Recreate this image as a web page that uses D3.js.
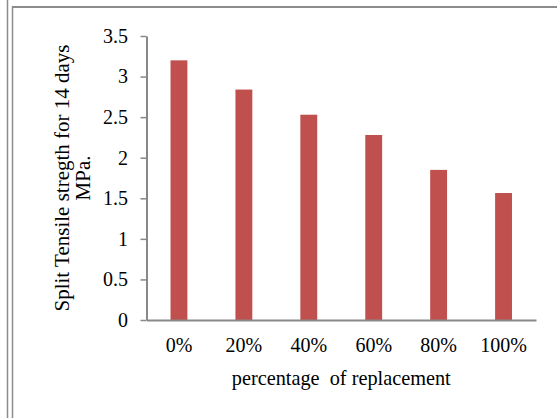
<!DOCTYPE html>
<html><head><meta charset="utf-8">
<script src="https://cdn.jsdelivr.net/npm/d3@7/dist/d3.min.js"></script>
<style>
html,body{margin:0;padding:0;background:#fff;}
svg{display:block;}
text{font-family:"Liberation Serif","Times New Roman",serif;}
</style></head>
<body>
<svg id="chart" width="557" height="418"></svg>
<script>
const categories = ["0%","20%","40%","60%","80%","100%"];
const values = [3.20, 2.84, 2.53, 2.28, 1.85, 1.565];
const yTicks = [0, 0.5, 1, 1.5, 2, 2.5, 3, 3.5];
const yTickLabels = ["0","0.5","1","1.5","2","2.5","3","3.5"];
const yTitleLines = ["Split Tensile stregth for 14 days", "MPa."];
const xTitle = "percentage  of replacement";

(function(){
const svg = d3.select("#chart");
const W = 557, H = 418;
const mLeft = 146.5, mRight = 536, mTop = 36, mBottom = 320;

// frame lines
svg.append("line").attr("x1",7.5).attr("x2",7.5).attr("y1",0).attr("y2",H)
  .attr("stroke","#8c8c8c").attr("stroke-width",1.5);
svg.append("line").attr("x1",12.5).attr("x2",12.5).attr("y1",6).attr("y2",H)
  .attr("stroke","#8c8c8c").attr("stroke-width",1.5);
svg.append("line").attr("x1",12).attr("x2",W).attr("y1",7).attr("y2",7)
  .attr("stroke","#8c8c8c").attr("stroke-width",2);

const x = d3.scaleBand().domain(categories).range([mLeft, mRight])
  .paddingInner(0.74).paddingOuter(0.37);
const y = d3.scaleLinear().domain([0, 3.5]).range([mBottom, mTop]);

// bars
svg.append("g").selectAll("rect").data(values).join("rect")
  .attr("x", (d,i) => x(categories[i]))
  .attr("width", x.bandwidth())
  .attr("y", d => y(d))
  .attr("height", d => y(0) - y(d))
  .attr("fill", "#c0504d");

// y axis
const yAxis = d3.axisLeft(y).tickValues(yTicks)
  .tickFormat((d,i) => yTickLabels[i]).tickSize(6).tickSizeOuter(0).tickPadding(12.5);
const gy = svg.append("g").attr("transform", `translate(${mLeft},0)`).call(yAxis);
gy.select(".domain").attr("stroke","#888").attr("stroke-width",2);
gy.selectAll(".tick line").attr("stroke","#888").attr("stroke-width",1.5);
gy.selectAll(".tick text").attr("font-size","20px").attr("fill","#000")
  .style("font-family","'Liberation Serif',serif");

// x axis
const xAxis = d3.axisBottom(x).tickSize(0).tickSizeOuter(0).tickPadding(18);
const gx = svg.append("g").attr("transform", `translate(0,${mBottom})`).call(xAxis);
gx.select(".domain").attr("stroke","#888").attr("stroke-width",2);
gx.selectAll(".tick text").attr("font-size","20px").attr("fill","#000")
  .style("font-family","'Liberation Serif',serif");

// x title
svg.append("text").attr("x", (mLeft+mRight)/2).attr("y", 385)
  .attr("text-anchor","middle").attr("font-size","20.3px").attr("fill","#000")
  .style("white-space","pre").text(xTitle);

// y title (rotated, two lines)
const cy = (mTop + mBottom) / 2;
const baselines = [69, 90];
yTitleLines.forEach((t,i) => {
  svg.append("text")
    .attr("transform", `translate(${baselines[i]},${cy}) rotate(-90)`)
    .attr("text-anchor","middle").attr("font-size","21px").attr("fill","#000")
    .text(t);
});
})();
</script>
</body></html>
